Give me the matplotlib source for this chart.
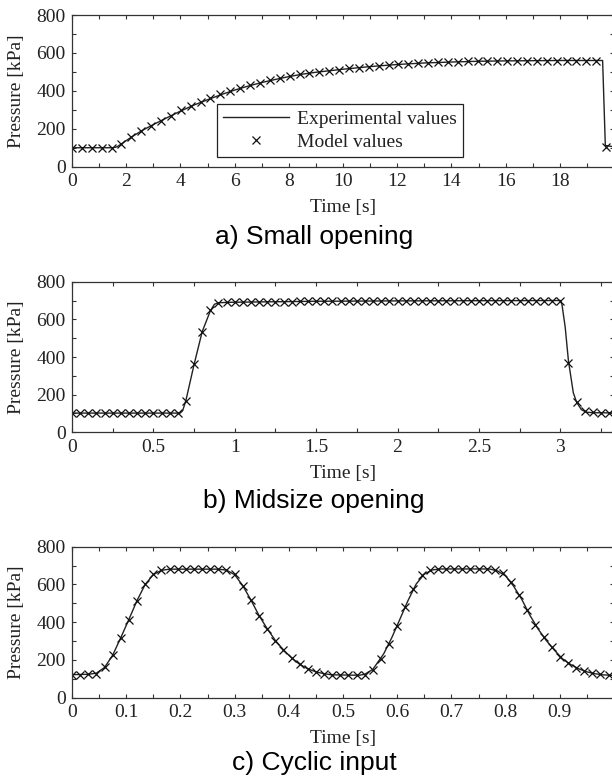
import numpy as np
import matplotlib
matplotlib.use("Agg")
import matplotlib.pyplot as plt
from matplotlib.ticker import MultipleLocator

# ---------------- data ----------------
# a) Small opening
a_model_dt = 0.365
a_model_vals = [100, 100, 100, 100, 100, 122, 155, 186, 215, 243,
                270, 297, 318, 342, 363, 381, 398, 413, 429, 444,
                456, 468, 479, 488, 496, 502, 507, 512, 518, 523,
                528, 532, 536, 540, 543, 546, 548, 550, 552, 553,
                555, 556, 557, 558, 558, 559, 559, 559, 560, 560,
                560, 560, 560, 560, 105]
a_exp_t = [0, 1.5, 1.65, 1.8, 2.2, 2.6, 3.0, 3.5, 4.0, 4.5, 5.0, 5.5, 6.0, 6.5,
           7.0, 7.5, 8.0, 8.5, 9.0, 9.5, 10, 11, 12, 13, 14, 15, 16, 17, 18, 19,
           19.58, 19.68, 20]
a_exp_v = [100, 100, 104, 118, 157, 192, 222, 258, 293, 325, 353, 380, 404, 425,
           444, 460, 475, 488, 498, 506, 514, 528, 539, 547, 552, 556, 558, 559, 560, 560,
           560, 112, 105]

# b) Midsize opening
b_model_dt = 0.05
b_model_vals = [102] * 14 + [166, 361, 535, 650, 688, 690,
                691, 691, 692, 692, 693, 693, 694, 694, 695, 695,
                696, 696, 696, 697, 697, 697, 698, 698, 698, 698,
                698, 699, 699, 699, 699, 699, 699, 700, 700, 700,
                700, 700, 700, 700, 700, 700, 700, 700, 700, 700,
                700, 370, 160, 114, 106, 104, 103]
b_exp_t = [0, 0.665, 0.68, 0.70, 0.75, 0.80, 0.85, 0.875, 0.90, 0.95, 1.0, 1.5, 2.0,
           2.5, 3.0, 3.01, 3.03, 3.05, 3.08, 3.10, 3.13, 3.16, 3.2, 3.33]
b_exp_v = [102, 102, 115, 170, 360, 535, 645, 680, 688, 690, 691, 696, 698,
           699, 700, 680, 560, 380, 210, 160, 120, 107, 104, 103]

# c) Cyclic input
c_model_dt = 0.015
c_model_vals = [120, 120, 123, 128, 162, 228, 318, 414, 514, 603,
                655, 677, 681, 682, 682, 683, 683, 682, 682, 677,
                655, 594, 518, 435, 365, 303, 254, 210, 176, 153,
                136, 127, 122, 118, 118, 118, 122, 148, 203, 285,
                382, 483, 576, 650, 677, 681, 682, 682, 682, 682,
                682, 682, 678, 661, 611, 546, 462, 386, 321, 268,
                218, 185, 159, 141, 130, 123, 118]
c_exp_t = [0, 0.03, 0.045, 0.06, 0.075, 0.09, 0.105, 0.12, 0.135, 0.15, 0.165, 0.18,
           0.27, 0.285, 0.30, 0.315, 0.33, 0.345, 0.36, 0.375, 0.39, 0.405, 0.42,
           0.435, 0.45, 0.465, 0.48, 0.53, 0.54, 0.555, 0.575, 0.59, 0.605, 0.62,
           0.635, 0.65, 0.665, 0.68, 0.77, 0.785, 0.80, 0.815, 0.83, 0.845, 0.86,
           0.875, 0.89, 0.905, 0.92, 0.935, 0.95, 0.965, 0.98, 1.0]
c_exp_v = [122, 124, 130, 160, 225, 318, 415, 515, 600, 652, 675, 681,
           681, 676, 652, 594, 518, 436, 366, 304, 254, 211, 177,
           153, 137, 127, 121, 119, 124, 150, 232, 318, 416, 515,
           602, 655, 677, 682, 682, 672, 645, 590, 520, 436, 364,
           303, 252, 206, 176, 153, 137, 127, 121, 118]

captions = ["a) Small opening", "b) Midsize opening", "c) Cyclic input"]
xlims = [(0, 20.0), (0, 3.33), (0, 1.0)]
xmajor = [2, 0.5, 0.1]
xminor = [1, 0.25, 0.05]

# ---------------- figure ----------------
W, H = 612, 779
fig = plt.figure(figsize=(W / 100, H / 100), dpi=100)
serif = "Liberation Serif"
sans = "Liberation Sans"
fs = 14

panels = [
    (a_model_dt, a_model_vals, a_exp_t, a_exp_v, 15.0, 166.7, 237),
    (b_model_dt, b_model_vals, b_exp_t, b_exp_v, 281.7, 432.3, 501),
    (c_model_dt, c_model_vals, c_exp_t, c_exp_v, 546.7, 697.7, 763),
]
left_px, right_px = 72, 614

for k, (dt, mvals, et, ev, top_px, bot_px, cap_y) in enumerate(panels):
    ax = fig.add_axes([left_px / W, (H - bot_px) / H,
                       (right_px - left_px) / W, (bot_px - top_px) / H])
    mt = np.arange(len(mvals)) * dt
    ax.plot(et, ev, color="#222222", lw=1.0, label="Experimental values")
    ax.plot(mt, mvals, ls="none", marker="x", ms=5.2, mew=0.9, color="#111111",
            label="Model values")
    ax.set_xlim(*xlims[k])
    ax.set_ylim(0, 800)
    ax.xaxis.set_major_locator(MultipleLocator(xmajor[k]))
    ax.xaxis.set_minor_locator(MultipleLocator(xminor[k]))
    ax.yaxis.set_major_locator(MultipleLocator(200))
    ax.yaxis.set_minor_locator(MultipleLocator(100))
    ax.tick_params(which="both", direction="in", top=True, right=True,
                   length=3.2, width=0.8, color="#333333",
                   labelsize=fs, labelcolor="#222222")
    ax.tick_params(axis="x", pad=4.5)
    ax.tick_params(axis="y", pad=4.5)
    for lab in ax.get_yticklabels():
        lab.set_fontfamily(serif)
    ticks = [t for t in ax.get_xticks() if xlims[k][0] - 1e-9 <= t <= xlims[k][1] - 0.05 * xmajor[k]]
    ax.set_xticks(ticks)
    ax.set_xticklabels([f"{t:g}" for t in ticks], fontfamily=serif, fontsize=fs, color="#222222")
    for sp in ax.spines.values():
        sp.set_linewidth(0.9)
        sp.set_color("#333333")
    ax.set_xlabel("Time [s]", fontfamily=serif, fontsize=fs, color="#222222")
    ax.set_ylabel("Pressure [kPa]", fontfamily=serif, fontsize=fs, color="#222222")
    ax.xaxis.set_label_coords(0.5, -0.215)
    ax.yaxis.set_label_coords(-0.087, 0.5)
    fig.text(314 / W, (H - cap_y) / H, captions[k], ha="center", va="center",
             fontfamily=sans, fontsize=19, color="black")
    if k == 0:
        leg = ax.legend(loc="lower left", bbox_to_anchor=(0.2675, 0.064),
                        borderaxespad=0, frameon=True, fancybox=False,
                        framealpha=1, edgecolor="#222222",
                        prop={"family": serif, "size": fs},
                        handlelength=3.4, handletextpad=0.4,
                        borderpad=0.32, labelspacing=0.28)
        leg.get_frame().set_linewidth(0.9)
        for t in leg.get_texts():
            t.set_color("#222222")

fig.savefig("out.png", dpi=100)
